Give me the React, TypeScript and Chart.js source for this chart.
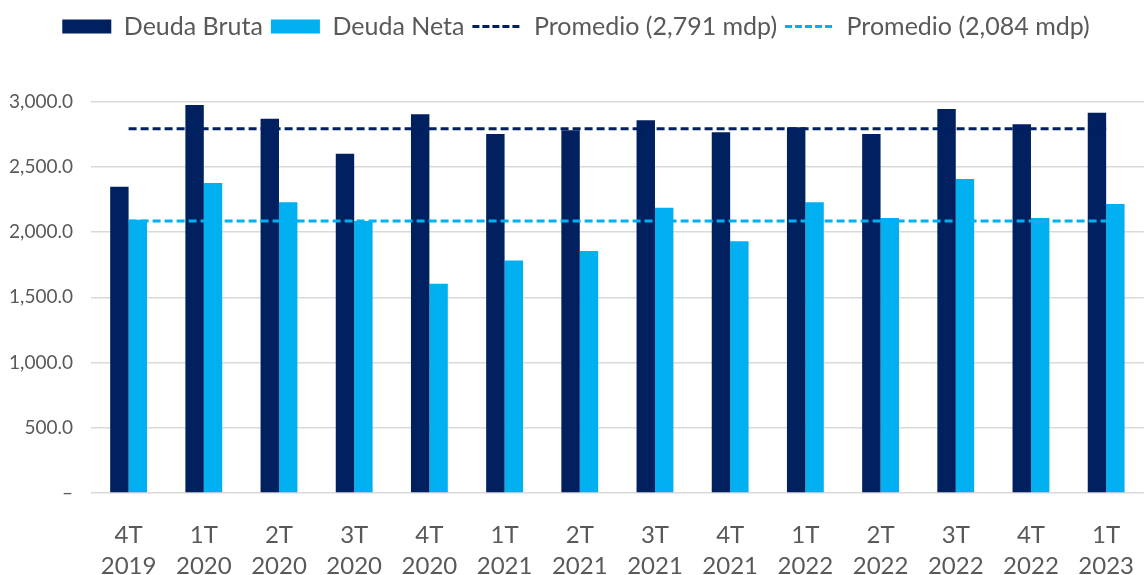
import React, { useEffect, useRef } from "react";
import { Chart, registerables } from "chart.js";

Chart.register(...registerables);

const categories: string[][] = [
  ["4T", "2019"], ["1T", "2020"], ["2T", "2020"], ["3T", "2020"], ["4T", "2020"],
  ["1T", "2021"], ["2T", "2021"], ["3T", "2021"], ["4T", "2021"],
  ["1T", "2022"], ["2T", "2022"], ["3T", "2022"], ["4T", "2022"], ["1T", "2023"],
];
const deudaBruta = [2346, 2973, 2868, 2600, 2902, 2751, 2779, 2856, 2764, 2802, 2751, 2943, 2826, 2914];
const deudaNeta = [2093, 2376, 2228, 2085, 1603, 1781, 1855, 2185, 1929, 2228, 2108, 2407, 2108, 2215];
const promedioBruta = 2791;
const promedioNeta = 2084;
const yTicks = [0, 500, 1000, 1500, 2000, 2500, 3000];

const NAVY = "#002060";
const CYAN = "#00B0F0";
const TEXT = "#595959";
const FONT = "Lato";

export default function App() {
  const ref = useRef<HTMLCanvasElement | null>(null);

  useEffect(() => {
    if (!ref.current) return;
    document.body.style.overflow = "hidden";
    const legendSpace = {
      id: "legendSpace",
      beforeInit(chart: any) {
        const legend = chart.legend;
        if (!legend) return;
        const orig = legend.fit;
        legend.fit = function () {
          orig.call(this);
          this.height = 95.5;
        };
      },
    };
    const chart = new Chart(ref.current, {
      type: "bar",
      data: {
        labels: categories,
        datasets: [
          { type: "bar", label: "Deuda Bruta", data: deudaBruta, backgroundColor: NAVY, order: 2 },
          { type: "bar", label: "Deuda Neta", data: deudaNeta, backgroundColor: CYAN, order: 2 },
          {
            type: "line", label: `Promedio (${promedioBruta.toLocaleString("en-US")} mdp)`,
            data: categories.map(() => promedioBruta), borderColor: NAVY, backgroundColor: NAVY,
            borderWidth: 3, borderDash: [8, 4], pointRadius: 0, order: 1,
          },
          {
            type: "line", label: `Promedio (${promedioNeta.toLocaleString("en-US")} mdp)`,
            data: categories.map(() => promedioNeta), borderColor: CYAN, backgroundColor: CYAN,
            borderWidth: 3, borderDash: [8, 4], pointRadius: 0, order: 1,
          },
        ] as any,
      },
      options: {
        animation: false,
        responsive: true,
        maintainAspectRatio: false,
        layout: { padding: { top: 6, left: 0, right: 0, bottom: 0 } },
        datasets: { bar: { categoryPercentage: 0.49, barPercentage: 1 } },
        plugins: {
          tooltip: { enabled: false },
          legend: {
            position: "top",
            labels: {
              color: TEXT,
              font: { family: FONT, size: 25 },
              usePointStyle: true,
              pointStyleWidth: 49,
              boxHeight: 14,
              padding: 8,
              sort: (a: any, b: any) => a.datasetIndex - b.datasetIndex,
              generateLabels: (chart: any) =>
                chart.data.datasets.map((ds: any, i: number) => ({
                  text: ds.label,
                  fillStyle: ds.type === "line" ? "transparent" : ds.backgroundColor,
                  strokeStyle: ds.type === "line" ? ds.borderColor : ds.backgroundColor,
                  lineWidth: ds.type === "line" ? 3 : 0,
                  lineDash: ds.type === "line" ? [7, 3] : [],
                  pointStyle: ds.type === "line" ? "line" : "rect",
                  fontColor: TEXT,
                  datasetIndex: i,
                  hidden: false,
                })),
            },
          },
        },
        scales: {
          x: {
            grid: { display: false },
            border: { display: false },
            ticks: {
              color: TEXT,
              font: { family: FONT, size: 24, lineHeight: 1.32 },
              padding: 18,
              maxRotation: 0,
              autoSkip: false,
            },
            afterFit: (s: any) => { s.height = 82; },
          },
          y: {
            min: 0,
            max: 3000,
            afterBuildTicks: (s: any) => { s.ticks = yTicks.map((v) => ({ value: v })); },
            grid: { color: "#D9D9D9", lineWidth: 1.5, drawTicks: false },
            border: { display: false },
            ticks: {
              color: TEXT,
              font: { family: FONT, size: 19 },
              padding: 18,
              callback: (v: any) =>
                Number(v) === 0 ? "–" : Number(v).toLocaleString("en-US", { minimumFractionDigits: 1, maximumFractionDigits: 1 }),
            },
            afterFit: (s: any) => { s.width = 91; },
          },
        },
      },
      plugins: [legendSpace],
    });
    return () => chart.destroy();
  }, []);

  return (
    <div style={{ position: "fixed", left: 0, top: 0, width: 1152, height: 575 }}>
      <canvas ref={ref} />
    </div>
  );
}
